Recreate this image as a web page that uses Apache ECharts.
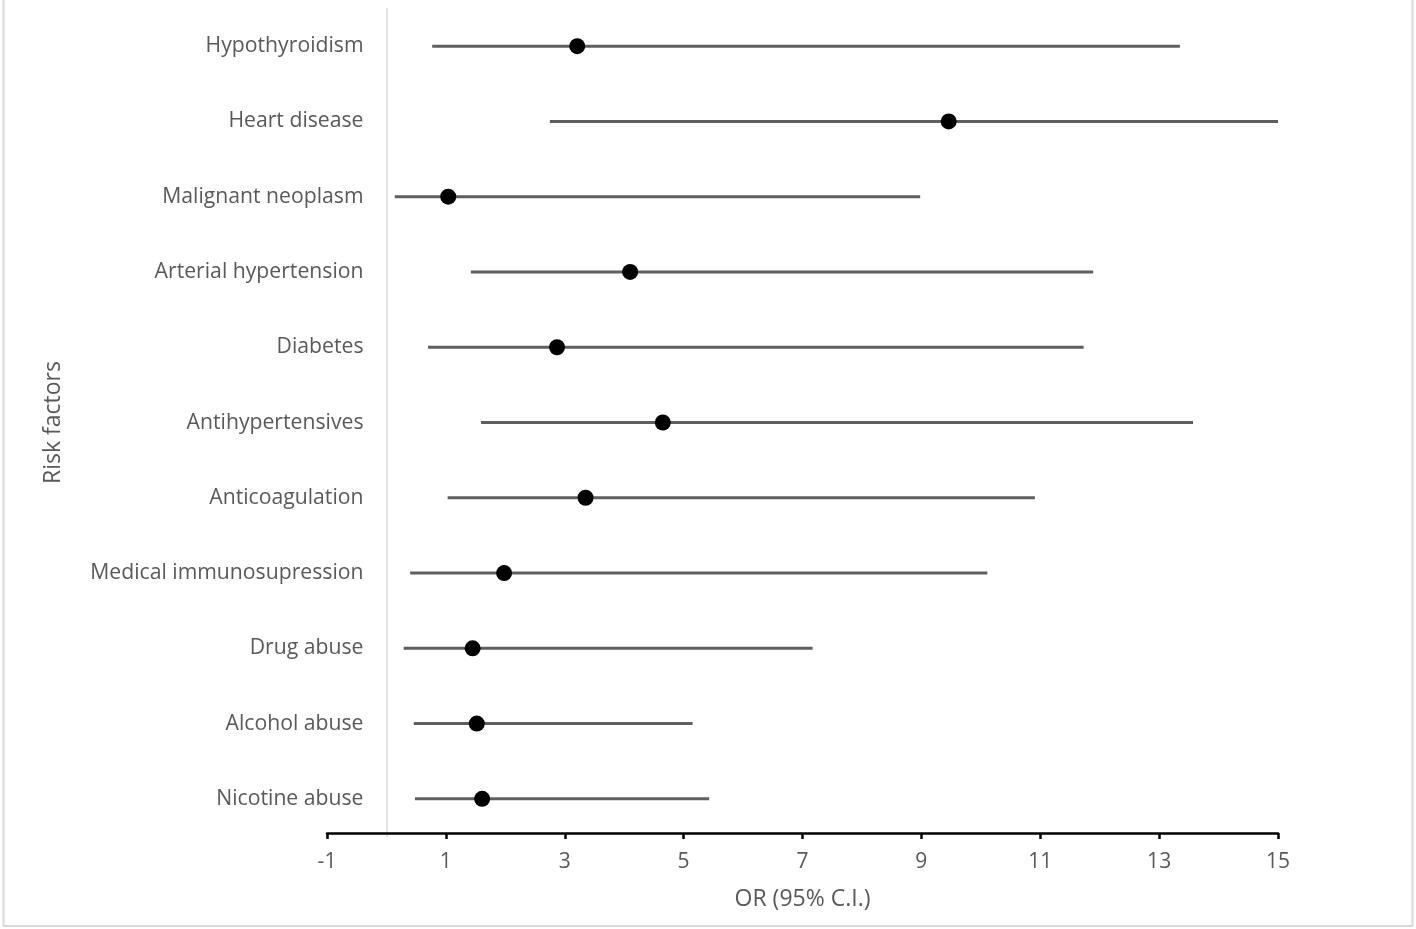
<!DOCTYPE html>
<html>
<head>
<meta charset="utf-8">
<script src="https://cdn.jsdelivr.net/npm/echarts@6/dist/echarts.min.js"></script>
<style>
html,body{margin:0;padding:0;background:#fff;}
#c{width:1416px;height:929px;}
</style>
</head>
<body>
<div id="c"></div>
<script>
const categories = ["Hypothyroidism","Heart disease","Malignant neoplasm","Arterial hypertension","Diabetes","Antihypertensives","Anticoagulation","Medical immunosupression","Drug abuse","Alcohol abuse","Nicotine abuse"];
const orValues = [3.21, 9.46, 1.04, 4.10, 2.87, 4.65, 3.35, 1.98, 1.45, 1.52, 1.61];
const ciLow    = [0.77, 2.75, 0.14, 1.42, 0.70, 1.59, 1.03, 0.40, 0.29, 0.46, 0.48];
const ciHigh   = [13.35, 15.0, 8.98, 11.89, 11.73, 13.57, 10.91, 10.11, 7.17, 5.15, 5.43];
const xTicks = { min: -1, max: 15, interval: 2 };

const FONT = "Open Sans";
const chart = echarts.init(document.getElementById('c'), null, {renderer:'canvas'});
const ciData = categories.map((c,i)=>[ciLow[i], ciHigh[i], i]);
const ptData = categories.map((c,i)=>[orValues[i], i]);

chart.setOption({
  animation:false,
  backgroundColor:'#fff',
  graphic:[{type:'rect', shape:{x:3.5,y:-5,width:1409,height:931}, style:{fill:'none', stroke:'#d9d9d9', lineWidth:2}, silent:true}],
  grid:{left:327, right:138, top:8.5, bottom:92.5, containLabel:false, outerBoundsMode:'none'},
  xAxis:{
    type:'value', min:xTicks.min, max:xTicks.max, interval:xTicks.interval,
    offset:-3.5,
    name:'OR (95% C.I.)', nameLocation:'middle', nameGap:55,
    nameTextStyle:{color:'#595959', fontSize:23, fontFamily:FONT},
    axisLine:{show:true, onZero:false, lineStyle:{color:'#000', width:2.5}},
    axisTick:{show:true, inside:false, length:6, lineStyle:{color:'#000', width:2.5}},
    axisLabel:{color:'#595959', fontSize:21, fontFamily:FONT, margin:19},
    splitLine:{show:false}
  },
  yAxis:{
    type:'category', data:categories, inverse:true, boundaryGap:true,
    position:'left', offset:-59.5,
    name:'Risk factors', nameLocation:'middle', nameGap:322, nameRotate:90,
    nameTextStyle:{color:'#595959', fontSize:23, fontFamily:FONT},
    axisLine:{show:true, onZero:false, lineStyle:{color:'#d9d9d9', width:1.5}},
    axisTick:{show:false},
    axisLabel:{color:'#595959', fontSize:21.2, fontFamily:FONT, margin:23},
    splitLine:{show:false}
  },
  series:[
    {
      type:'custom',
      data:ciData,
      encode:{x:[0,1], y:2},
      renderItem:function(params, api){
        const p1 = api.coord([api.value(0), api.value(2)]);
        const p2 = api.coord([api.value(1), api.value(2)]);
        return {type:'line', shape:{x1:p1[0], y1:p1[1], x2:p2[0], y2:p2[1]},
          style:{stroke:'#5f5f5f', lineWidth:3}};
      },
      z:2
    },
    {
      type:'scatter',
      data:ptData,
      symbol:'circle', symbolSize:16,
      itemStyle:{color:'#000', opacity:1},
      z:3
    }
  ]
});
</script>
</body>
</html>
